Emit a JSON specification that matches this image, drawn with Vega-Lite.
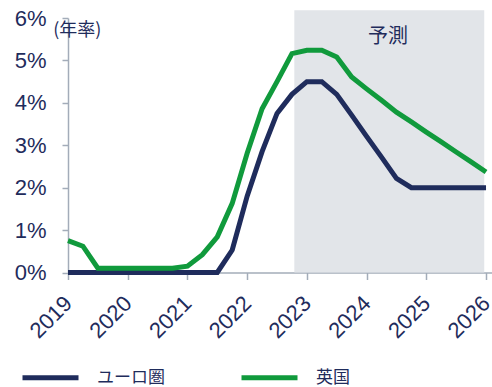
{
  "$schema": "https://vega.github.io/schema/vega-lite/v6.json",
  "width": 424,
  "height": 254.5,
  "autosize": "none",
  "padding": {"left": 68, "top": 18, "right": 0, "bottom": 114.5},
  "background": "white",
  "config": {
    "view": {"stroke": null},
    "font": "Liberation Sans"
  },
  "datasets": {
    "rates": [
      {"t": 2019.0, "v": 0, "s": "ユーロ圏"},
      {"t": 2019.25, "v": 0, "s": "ユーロ圏"},
      {"t": 2019.5, "v": 0, "s": "ユーロ圏"},
      {"t": 2019.75, "v": 0, "s": "ユーロ圏"},
      {"t": 2020.0, "v": 0, "s": "ユーロ圏"},
      {"t": 2020.25, "v": 0, "s": "ユーロ圏"},
      {"t": 2020.5, "v": 0, "s": "ユーロ圏"},
      {"t": 2020.75, "v": 0, "s": "ユーロ圏"},
      {"t": 2021.0, "v": 0, "s": "ユーロ圏"},
      {"t": 2021.25, "v": 0, "s": "ユーロ圏"},
      {"t": 2021.5, "v": 0, "s": "ユーロ圏"},
      {"t": 2021.75, "v": 0.53, "s": "ユーロ圏"},
      {"t": 2022.0, "v": 1.8, "s": "ユーロ圏"},
      {"t": 2022.25, "v": 2.85, "s": "ユーロ圏"},
      {"t": 2022.5, "v": 3.75, "s": "ユーロ圏"},
      {"t": 2022.75, "v": 4.2, "s": "ユーロ圏"},
      {"t": 2023.0, "v": 4.5, "s": "ユーロ圏"},
      {"t": 2023.25, "v": 4.5, "s": "ユーロ圏"},
      {"t": 2023.5, "v": 4.2, "s": "ユーロ圏"},
      {"t": 2023.75, "v": 3.71, "s": "ユーロ圏"},
      {"t": 2024.0, "v": 3.21, "s": "ユーロ圏"},
      {"t": 2024.25, "v": 2.72, "s": "ユーロ圏"},
      {"t": 2024.5, "v": 2.22, "s": "ユーロ圏"},
      {"t": 2024.75, "v": 2.0, "s": "ユーロ圏"},
      {"t": 2025.0, "v": 2.0, "s": "ユーロ圏"},
      {"t": 2025.25, "v": 2.0, "s": "ユーロ圏"},
      {"t": 2025.5, "v": 2.0, "s": "ユーロ圏"},
      {"t": 2025.75, "v": 2.0, "s": "ユーロ圏"},
      {"t": 2026.0, "v": 2.0, "s": "ユーロ圏"},
      {"t": 2019.0, "v": 0.75, "s": "英国"},
      {"t": 2019.25, "v": 0.62, "s": "英国"},
      {"t": 2019.5, "v": 0.1, "s": "英国"},
      {"t": 2019.75, "v": 0.1, "s": "英国"},
      {"t": 2020.0, "v": 0.1, "s": "英国"},
      {"t": 2020.25, "v": 0.1, "s": "英国"},
      {"t": 2020.5, "v": 0.1, "s": "英国"},
      {"t": 2020.75, "v": 0.1, "s": "英国"},
      {"t": 2021.0, "v": 0.15, "s": "英国"},
      {"t": 2021.25, "v": 0.42, "s": "英国"},
      {"t": 2021.5, "v": 0.84, "s": "英国"},
      {"t": 2021.75, "v": 1.63, "s": "英国"},
      {"t": 2022.0, "v": 2.81, "s": "英国"},
      {"t": 2022.25, "v": 3.86, "s": "英国"},
      {"t": 2022.5, "v": 4.5, "s": "英国"},
      {"t": 2022.75, "v": 5.16, "s": "英国"},
      {"t": 2023.0, "v": 5.24, "s": "英国"},
      {"t": 2023.25, "v": 5.24, "s": "英国"},
      {"t": 2023.5, "v": 5.08, "s": "英国"},
      {"t": 2023.75, "v": 4.61, "s": "英国"},
      {"t": 2024.0, "v": 4.33, "s": "英国"},
      {"t": 2024.25, "v": 4.06, "s": "英国"},
      {"t": 2024.5, "v": 3.78, "s": "英国"},
      {"t": 2024.75, "v": 3.55, "s": "英国"},
      {"t": 2025.0, "v": 3.31, "s": "英国"},
      {"t": 2025.25, "v": 3.08, "s": "英国"},
      {"t": 2025.5, "v": 2.84, "s": "英国"},
      {"t": 2025.75, "v": 2.61, "s": "英国"},
      {"t": 2026.0, "v": 2.37, "s": "英国"}
    ],
    "shade": [{"start": 2022.79, "end": 2025.97, "lo": 0, "hi": 6.18}],
    "note": [{"t": 2024.36, "v": 5.55, "label": "予測"}]
  },
  "layer": [
    {
      "data": {"name": "shade"},
      "mark": {"type": "rect", "color": "#e2e5e9", "clip": false},
      "encoding": {
        "x": {"field": "start", "type": "quantitative", "scale": {"domain": [2019, 2026.1], "nice": false, "zero": false}},
        "x2": {"field": "end"},
        "y": {"field": "lo", "type": "quantitative", "scale": {"domain": [0, 6], "nice": false}},
        "y2": {"field": "hi"}
      }
    },
    {
      "data": {"name": "note"},
      "mark": {"type": "text", "font": "Noto Sans CJK JP", "fontSize": 20, "color": "#1f2c5c", "align": "center", "baseline": "middle"},
      "encoding": {
        "x": {"field": "t", "type": "quantitative"},
        "y": {"field": "v", "type": "quantitative"},
        "text": {"field": "label"}
      }
    },
    {
      "data": {"name": "rates"},
      "mark": {"type": "line", "strokeWidth": 5, "clip": false},
      "encoding": {
        "x": {
          "field": "t", "type": "quantitative",
          "axis": {
            "values": [2019, 2020, 2021, 2022, 2023, 2024, 2025, 2026],
            "format": "d",
            "title": null,
            "grid": false,
            "labelAngle": -45,
            "labelAlign": "right",
            "labelBaseline": "middle",
            "labelFontSize": 22,
            "labelColor": "#1f2c5c",
            "labelPadding": 20,
            "labelFlush": false,
            "labelOverlap": false,
            "tickSize": 7,
            "tickColor": "#a3acb9",
            "domainColor": "#a3acb9",
            "domainWidth": 1.5,
            "tickWidth": 1.5
          }
        },
        "y": {
          "field": "v", "type": "quantitative",
          "axis": {
            "values": [0, 1, 2, 3, 4, 5, 6],
            "labelExpr": "datum.value + '%'",
            "grid": false,
            "labelFontSize": 22,
            "labelColor": "#1f2c5c",
            "labelPadding": 16,
            "tickSize": 6,
            "tickColor": "#a3acb9",
            "domainColor": "#a3acb9",
            "domainWidth": 1.5,
            "tickWidth": 1.5,
            "title": "(年率)",
            "titleAngle": 0,
            "titleAlign": "left",
            "titleBaseline": "middle",
            "titleX": -15.3,
            "titleY": 12.5,
            "titleFont": "Noto Sans CJK JP",
            "titleFontSize": 18,
            "titleFontWeight": "normal",
            "titleColor": "#1f2c5c"
          }
        },
        "color": {
          "field": "s", "type": "nominal",
          "scale": {"domain": ["ユーロ圏", "英国"], "range": ["#1f2c5c", "#109a3c"]},
          "legend": {
            "title": null,
            "orient": "none",
            "legendX": -48,
            "legendY": 329,
            "direction": "horizontal",
            "symbolType": "stroke",
            "symbolSize": 3136,
            "symbolStrokeWidth": 5,
            "labelFont": "Noto Sans CJK JP",
            "labelFontSize": 17,
            "labelColor": "#1f2c5c",
            "labelOffset": 16,
            "columnPadding": 66
          }
        }
      }
    }
  ]
}
